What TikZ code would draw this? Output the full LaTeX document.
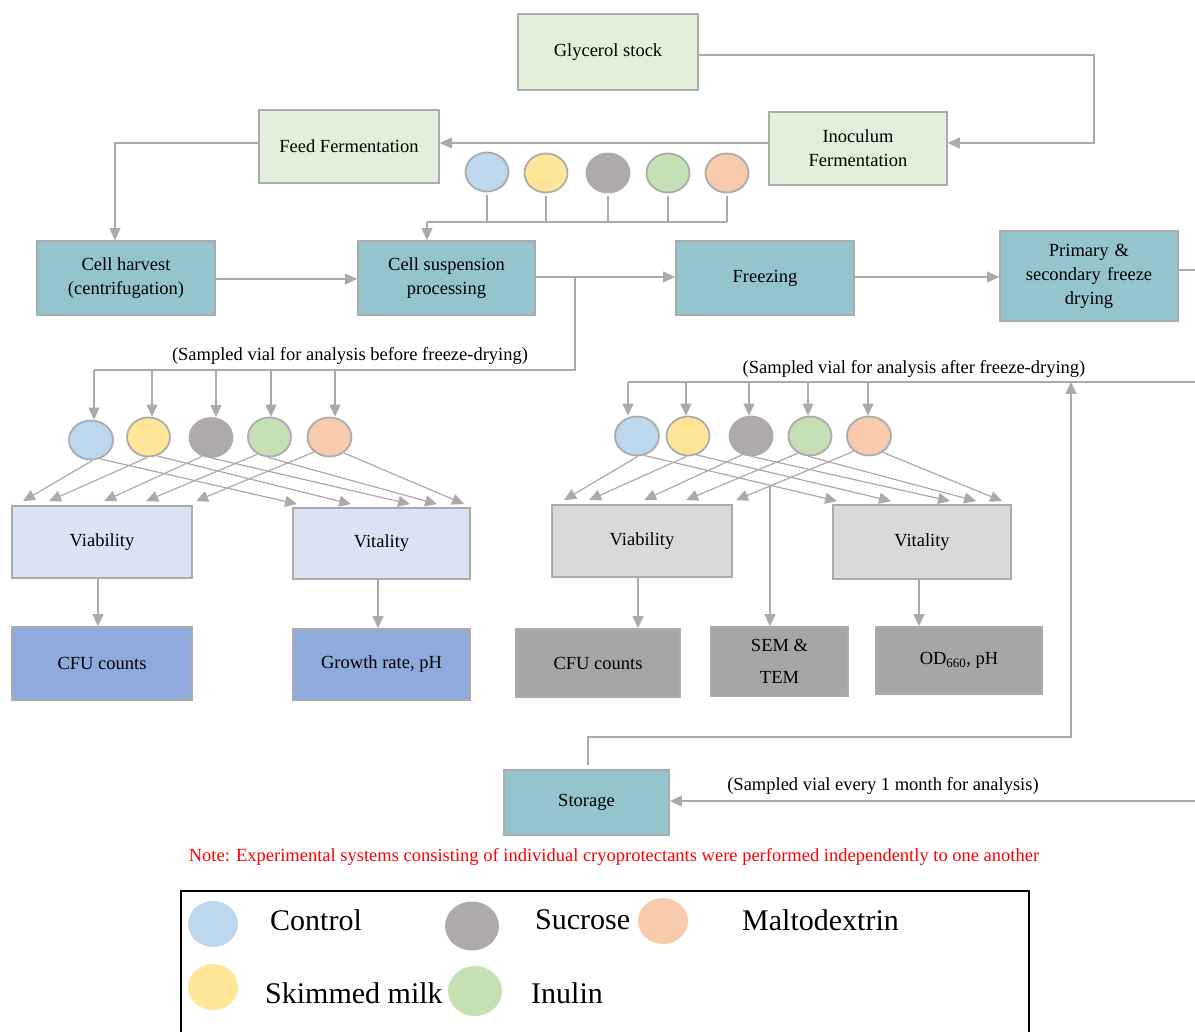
\documentclass[tikz,border=0pt]{standalone}
\usepackage{fontspec}
\setmainfont{Liberation Serif}
\usetikzlibrary{arrows.meta,shapes.geometric,calc}

\definecolor{lgreen}{HTML}{E2EFDA}
\definecolor{teal}{HTML}{94C5CD}
\definecolor{lblue}{HTML}{DAE3F3}
\definecolor{mblue}{HTML}{8FAADC}
\definecolor{lgray}{HTML}{D9D9D9}
\definecolor{dgray}{HTML}{A6A6A6}
\definecolor{edge}{HTML}{ABABAB}
\definecolor{wire}{HTML}{ABA9A9}
\definecolor{cblue}{HTML}{BDD7EE}
\definecolor{cyel}{HTML}{FFE699}
\definecolor{cgray}{HTML}{AEAAAA}
\definecolor{cgreen}{HTML}{C5E0B4}
\definecolor{corange}{HTML}{F8CBAD}

\newcommand\mainfs{\fontsize{18.5}{24}\selectfont}
\newcommand\legfs{\fontsize{30}{34}\selectfont}

\tikzset{
  box/.style={draw=edge, line width=1.8pt, align=center, font=\mainfs, inner sep=2pt},
  conn/.style={draw=wire, line width=1.2pt},
  arr/.style={conn, -{Triangle[length=12pt,width=11pt]}, color=wire},
  vial/.style={ellipse, draw=edge, line width=1.8pt, minimum width=43pt, minimum height=39pt, inner sep=0pt},
  legdot/.style={ellipse, minimum width=50pt, minimum height=46pt, inner sep=0pt},
  legtxt/.style={anchor=west, inner sep=0pt, font=\legfs},
  lbl/.style={font=\mainfs, inner sep=0pt}
}

\begin{document}
\begin{tikzpicture}[x=1pt,y=-1pt]
\useasboundingbox (0,0) rectangle (1195,1032);

% ---- upstream process ----
\node[box, fill=lgreen, minimum width=180pt, minimum height=76pt] (glyc) at (608,52) {Glycerol stock};
\node[box, fill=lgreen, minimum width=180pt, minimum height=73pt] (feed) at (349,146.5) {Feed Fermentation};
\node[box, fill=lgreen, minimum width=178pt, minimum height=73pt] (inoc) at (858,148.5) {Inoculum\\Fermentation};

\node[box, fill=teal, minimum width=178pt, minimum height=74pt] (harvest) at (126,278) {Cell harvest\\(centrifugation)};
\node[box, fill=teal, minimum width=177pt, minimum height=74pt] (susp) at (446.5,278) {Cell suspension\\processing};
\node[box, fill=teal, minimum width=178pt, minimum height=74pt] (freez) at (765,278) {Freezing};
\node[box, fill=teal, minimum width=178pt, minimum height=90pt, text width=170pt] (fdry) at (1089,276) {Primary \&\\secondary freeze\\drying};

% cryoprotectant vials added to the suspension
\node[vial, fill=cblue] (t1) at (487,172) {};
\node[vial, fill=cyel] (t2) at (546,173) {};
\node[vial, fill=cgray, draw=cgray] (t3) at (608,173) {};
\node[vial, fill=cgreen] (t4) at (668,173) {};
\node[vial, fill=corange] (t5) at (727,173) {};

\coordinate (bus) at (427,222);
\foreach \t in {t1,t2,t3,t4,t5}
  \draw[conn] ([yshift=-3pt]\t.south) -- (\t.south |- bus);
\draw[conn] (t5.south |- bus) -- (bus);
\draw[arr] (bus) -- (bus |- susp.north);

% main flow
\coordinate (gcorner) at (1094,55);
\draw[arr] ([yshift=-3pt]glyc.east) -- (gcorner) |- ([yshift=5.5pt]inoc.east);
\draw[arr] ([yshift=5.5pt]inoc.west) -- ([yshift=3.5pt]feed.east);
\draw[arr] ([yshift=3.5pt]feed.west) -| ([xshift=-11pt]harvest.north);
\draw[arr] ([yshift=-1pt]harvest.east) -- ([yshift=-1pt]susp.west);
\draw[arr] ([yshift=1pt]susp.east) -- ([yshift=1pt]freez.west);
\draw[arr] ([yshift=1pt]freez.east) -- ([yshift=-1pt]fdry.west);
\coordinate (fdryOut) at (1195,270);
\draw[conn] ([yshift=6pt]fdry.east) -- (fdryOut);

% ---- analysis before freeze-drying ----
\node[vial, fill=cblue, minimum width=44pt] (cL1) at (91,440) {};
\node[vial, fill=cyel] (cL2) at (148.5,437) {};
\node[vial, fill=cgray, draw=cgray] (cL3) at (211,437.5) {};
\node[vial, fill=cgreen] (cL4) at (269.5,437) {};
\node[vial, fill=corange, minimum width=44pt] (cL5) at (329.5,437) {};

\coordinate (brTop) at (575,277);
\coordinate (brCorner) at (575,370);
\draw[conn] (brTop) -- (brCorner) -- ([xshift=3pt]cL1.north |- brCorner);
\foreach \c/\dx in {cL1/3,cL2/3.5,cL3/5,cL4/1.5,cL5/5.5}
  \draw[arr] ([xshift=\dx pt]\c.north |- brCorner) -- ([xshift=\dx pt]\c.north);
\node[lbl] (lblBefore) at (350,356) {(Sampled vial for analysis before freeze-drying)};

\node[box, fill=lblue, minimum width=180pt, minimum height=72pt] (viaL) at (102,542) {Viability};
\node[box, fill=lblue, minimum width=177pt, minimum height=71pt] (vitL) at (381.5,543.5) {Vitality};
\node[box, fill=mblue, minimum width=180pt, minimum height=73pt] (cfuL) at (102,663.5) {CFU counts};
\node[box, fill=mblue, minimum width=177pt, minimum height=71pt] (grow) at (381.5,664.5) {Growth rate, pH};

\foreach \c/\a/\b/\la/\ra in {cL1/12/5/-85/-65, cL2/38/59/-93/-66, cL3/93/118/-115/-90, cL4/135/145/-125/-95, cL5/185/172/-136/-48}{
  \draw[arr] (\c.\la) -- ([xshift=\a pt,yshift=4pt]viaL.north west);
  \draw[arr] (\c.\ra) -- ([xshift=\b pt,yshift=3pt]vitL.north west);
}
\draw[arr] ([xshift=-4pt]viaL.south) -- ([xshift=-4pt]viaL.south |- cfuL.north);
\draw[arr] ([xshift=-3.5pt]vitL.south) -- ([xshift=-3.5pt]vitL.south |- grow.north);

% ---- analysis after freeze-drying ----
\node[vial, fill=cblue, minimum width=44pt] (cR1) at (637,436) {};
\node[vial, fill=cyel] (cR2) at (688,436) {};
\node[vial, fill=cgray, draw=cgray] (cR3) at (751,436) {};
\node[vial, fill=cgreen] (cR4) at (810,436) {};
\node[vial, fill=corange, minimum width=44pt] (cR5) at (869,436) {};

\coordinate (aftEdge) at (1195,382);
\draw[conn] (aftEdge) -- ([xshift=-9pt]cR1.north |- aftEdge);
\foreach \c/\dx in {cR1/-9,cR2/-2,cR3/-2,cR4/-2,cR5/-1}
  \draw[arr] ([xshift=\dx pt]\c.north |- aftEdge) -- ([xshift=\dx pt]\c.north);
\node[lbl] (lblAfter) at (914,369) {(Sampled vial for analysis after freeze-drying)};

\node[box, fill=lgray, minimum width=180pt, minimum height=72pt] (viaR) at (642,541) {Viability};
\node[box, fill=lgray, minimum width=178pt, minimum height=74pt] (vitR) at (922,542) {Vitality};
\node[box, fill=dgray, minimum width=164pt, minimum height=68pt] (cfuR) at (598,663) {CFU counts};
\node[box, fill=dgray, minimum width=137pt, minimum height=69pt, font=\fontsize{18.5}{32}\selectfont] (sem) at (779.5,661.5) {SEM \&\\TEM};
\node[box, fill=dgray, minimum width=166pt, minimum height=67pt] (od) at (959,660.5) {OD\textsubscript{660}, pH};

\foreach \c/\a/\b/\la/\ra in {cR1/13/5/-88/-70, cR2/38/59/-93/-66, cR3/93/118/-115/-90, cR4/135/144/-125/-95, cR5/185/170/-135/-50}{
  \draw[arr] (\c.\la) -- ([xshift=\a pt,yshift=4pt]viaR.north west);
  \draw[arr] (\c.\ra) -- ([xshift=\b pt,yshift=3pt]vitR.north west);
}
\coordinate (semStart) at (770,486);
\draw[arr] (semStart) -- (semStart |- sem.north);
\draw[arr] ([xshift=-4pt]viaR.south) -- ([xshift=-4pt]viaR.south |- cfuR.north);
\draw[arr] ([xshift=-3pt]vitR.south) -- ([xshift=-3pt]vitR.south |- od.north);

% ---- storage ----
\node[box, fill=teal, minimum width=165pt, minimum height=65pt] (stor) at (586.5,802.5) {Storage};
\coordinate (storTurn) at (1071,737);
\draw[arr] ([xshift=1.5pt,yshift=4pt]stor.north) |- (storTurn) -- (storTurn |- aftEdge);
\coordinate (storIn) at (1195,801);
\draw[arr] (storIn) -- ([yshift=1.5pt]stor.east);
\node[lbl] (lblStore) at (883,786) {(Sampled vial every 1 month for analysis)};

\node[font=\fontsize{18.5}{22}\selectfont, text=red, inner sep=0pt] (note) at (614,857)
  {Note: Experimental systems consisting of individual cryoprotectants were performed independently to one another};

% ---- legend ----
\draw[black, line width=1.3pt] (181,891) rectangle (1029,1045);
\node[legdot, fill=cblue] (lgC) at (213,924) {};
\node[legtxt] (lgCt) at (270,920) {Control};
\node[legdot, fill=cgray, minimum width=54pt, minimum height=49pt] (lgS) at (472,926) {};
\node[legtxt] (lgSt) at (535,920) {Sucrose};
\node[legdot, fill=corange] (lgM) at (663,921) {};
\node[legtxt] (lgMt) at (742,920) {Maltodextrin};
\node[legdot, fill=cyel] (lgK) at (213,987) {};
\node[legtxt] (lgKt) at (265,993) {Skimmed milk};
\node[legdot, fill=cgreen, minimum width=54pt, minimum height=50pt] (lgI) at (475,991) {};
\node[legtxt] (lgIt) at (531,993) {Inulin};
\end{tikzpicture}
\end{document}
